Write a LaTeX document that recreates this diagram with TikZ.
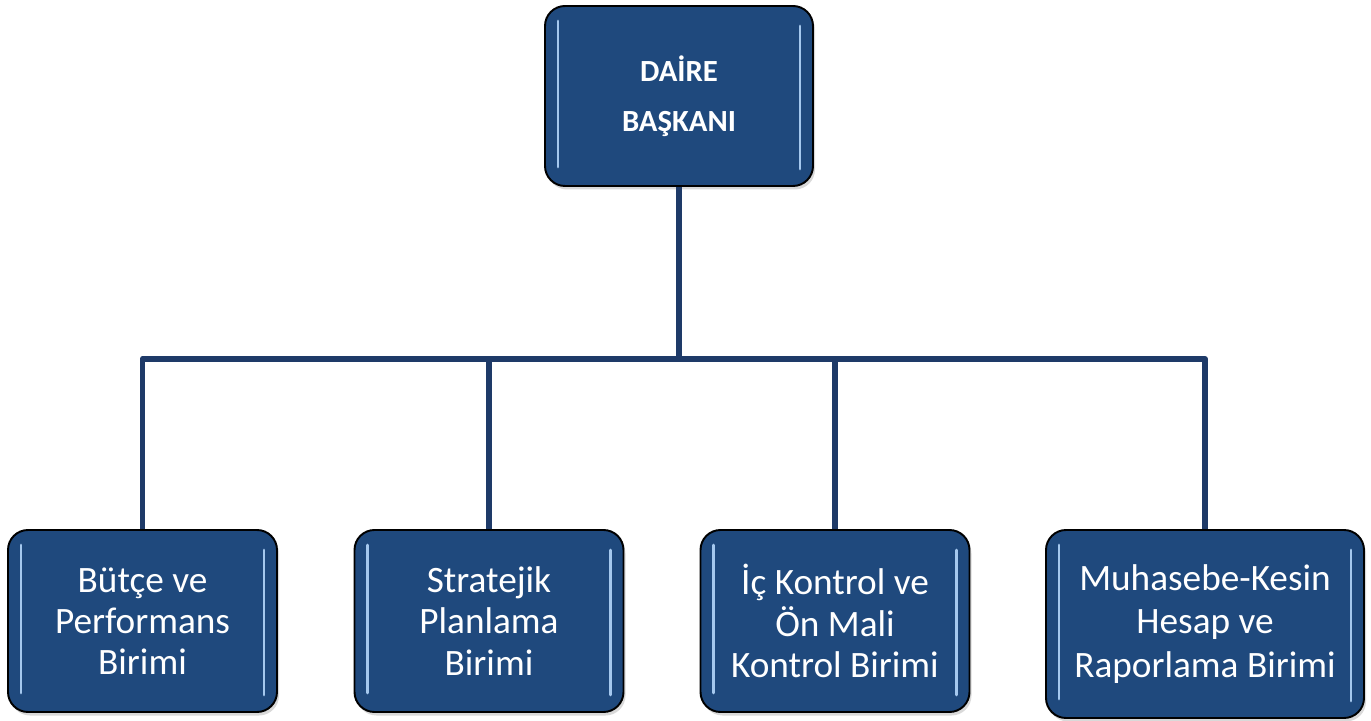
\documentclass[tikz,border=0pt]{standalone}
\usepackage{fontspec}
\setmainfont{Carlito}
\usepackage{tikz}
\usetikzlibrary{shadows,calc}

\definecolor{boxblue}{RGB}{31,73,125}
\definecolor{linkblue}{RGB}{30,58,104}
\definecolor{glintblue}{RGB}{165,200,238}

\tikzset{
  glint/.style={glintblue,line width=1.6pt,line cap=round},
  unitbox/.style={draw=black,line width=1.1pt,fill=boxblue,rounded corners=0.4cm,
    text=white,align=center,inner sep=0pt,
    drop shadow={shadow xshift=0.04cm,shadow yshift=-0.07cm,opacity=0.3},
    path picture={
      \draw[glint] ($(path picture bounding box.north west)+(0.26,-0.3)$) -- ($(path picture bounding box.south west)+(0.26,0.38)$);
      \draw[glint] ($(path picture bounding box.north east)+(-0.26,-0.4)$) -- ($(path picture bounding box.south east)+(-0.26,0.34)$);
    }},
  link/.style={linkblue,line width=3.4pt}
}

\begin{document}
\begin{tikzpicture}[line join=round,x=1.0cm,y=1.0cm]
  \useasboundingbox (0,0) rectangle (27.42,14.4);

  % head of the department
  \node[unitbox,minimum width=5.36cm,minimum height=3.6cm,
    font=\fontsize{17.5}{28.3}\selectfont\bfseries] (baskan) at (13.58,12.48) {DAİRE\\BAŞKANI};

  % units
  \foreach \x/\name/\txt in {2.85/butce/{Bütçe ve\\Performans\\Birimi},
                             9.78/stratejik/{Stratejik\\Planlama\\Birimi},
                             16.7/ickontrol/{İç Kontrol ve\\Ön Mali\\Kontrol Birimi}}{
    \node[unitbox,minimum width=5.38cm,minimum height=3.64cm,
      font=\fontsize{21.2}{23.4}\selectfont] (\name) at (\x,1.98) {\txt};
  }
  \node[unitbox,minimum width=6.36cm,minimum height=3.76cm,
    font=\fontsize{21.2}{24.6}\selectfont] (muhasebe) at (24.1,1.92) {Muhasebe-Kesin\\Hesap ve\\Raporlama Birimi};

  % connectors
  \coordinate (bus) at (13.58,7.22);
  \draw[link] (baskan.south) -- (bus);
  \draw[link] (butce.north) |- (bus) -| (muhasebe.north);
  \draw[link] (stratejik.north) -- (stratejik.north |- bus);
  \draw[link] (ickontrol.north) -- (ickontrol.north |- bus);
\end{tikzpicture}
\end{document}
